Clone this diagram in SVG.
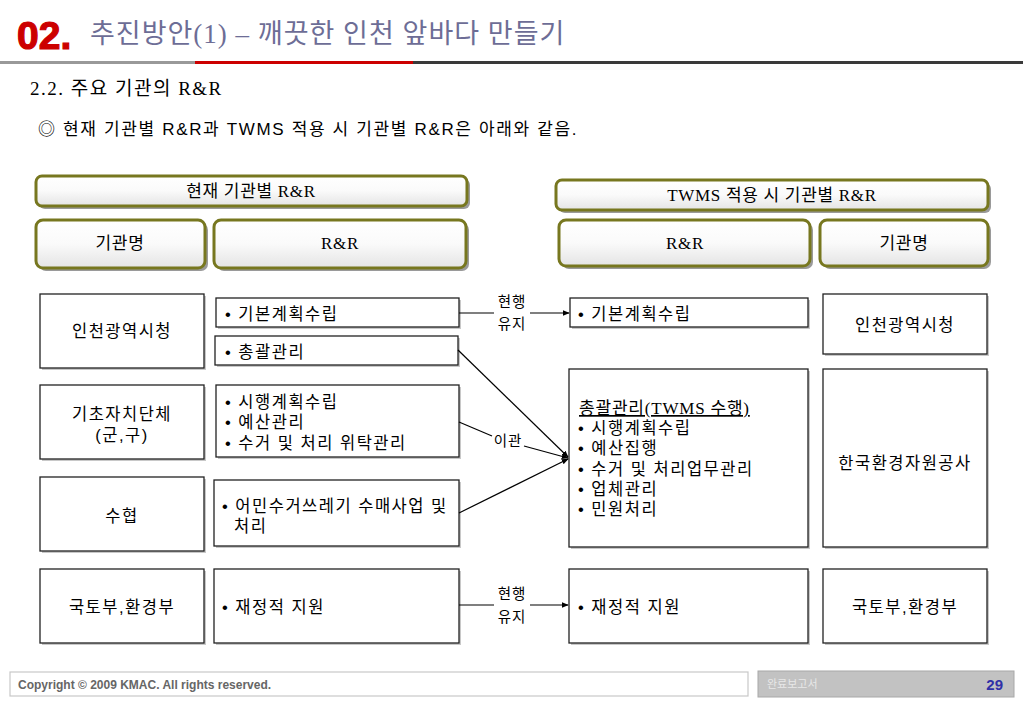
<svg xmlns="http://www.w3.org/2000/svg" width="1023" height="708" viewBox="0 0 1023 708">
<defs>
<linearGradient id="hg" x1="0" y1="0" x2="0" y2="1">
<stop offset="0" stop-color="#ffffff"/>
<stop offset="0.5" stop-color="#fafafa"/>
<stop offset="1" stop-color="#e4e4e4"/>
</linearGradient>
<marker id="ar" viewBox="0 0 10 10" refX="9" refY="5" markerWidth="7" markerHeight="7" markerUnits="userSpaceOnUse" orient="auto">
<path d="M0,1 L10,5 L0,9 z" fill="#000"/>
</marker>
<style>
.hdr{fill:url(#hg);stroke:#77771f;stroke-width:3}
.shd{fill:#9a9a9a}
.bx{fill:#fff;stroke:#222;stroke-width:1.3}
.bs{fill:#c8c8c8}
.ht{font-family:"Liberation Serif","Noto Sans CJK KR",serif;font-size:17px;letter-spacing:0.7px;fill:#000;text-anchor:middle}
.t{font-family:"Liberation Sans","Noto Sans CJK KR",sans-serif;font-size:16.5px;letter-spacing:1.5px;fill:#000}
.tc{font-family:"Liberation Sans","Noto Sans CJK KR",sans-serif;font-size:16.5px;letter-spacing:1.5px;fill:#000;text-anchor:middle}
.lb{font-family:"Liberation Sans","Noto Sans CJK KR",sans-serif;font-size:14.5px;letter-spacing:1px;fill:#000;text-anchor:middle}
.cn{fill:none;stroke:#000;stroke-width:1.2}
</style>
</defs>
<rect width="1023" height="708" fill="#fff"/>

<g id="title">
<text x="17" y="49" font-family="Liberation Sans, sans-serif" font-weight="bold" font-size="39" fill="#cc0000" stroke="#cc0000" stroke-width="1.2">02.</text>
<text x="90" y="43" font-family="Liberation Serif, Noto Sans CJK KR, serif" font-size="27" letter-spacing="1" fill="#6d6d96">추진방안(1) – 깨끗한 인천 앞바다 만들기</text>
<rect x="0" y="61" width="195" height="3" fill="#999"/>
<rect x="195" y="61" width="218" height="3" fill="#cc0000"/>
<rect x="413" y="61" width="610" height="3" fill="#3a3a3a"/>
<text x="30" y="95" font-family="Liberation Serif, Noto Sans CJK KR, serif" font-size="19" letter-spacing="1.5" fill="#000">2.2. 주요 기관의 R&amp;R</text>
<text x="38" y="135" font-family="Liberation Sans, Noto Sans CJK KR, sans-serif" font-size="17" letter-spacing="1.65" fill="#000">◎ 현재 기관별 R&amp;R과 TWMS 적용 시 기관별 R&amp;R은 아래와 같음.</text>
</g>

<g id="hdr-left-top">
<rect class="shd" x="39" y="179" width="431" height="30" rx="6"/>
<rect class="hdr" x="36" y="176" width="431" height="30" rx="6"/>
<text class="ht" x="251" y="197">현재 기관별 R&amp;R</text>
</g>
<g id="hdr-left-org">
<rect class="shd" x="39" y="223" width="169" height="48" rx="7"/>
<rect class="hdr" x="36" y="220" width="169" height="48" rx="7"/>
<text class="ht" x="120" y="249">기관명</text>
</g>
<g id="hdr-left-rr">
<rect class="shd" x="217" y="223" width="252" height="48" rx="7"/>
<rect class="hdr" x="214" y="220" width="252" height="48" rx="7"/>
<text class="ht" x="340" y="249">R&amp;R</text>
</g>
<g id="hdr-right-top">
<rect class="shd" x="559" y="183" width="432" height="30" rx="6"/>
<rect class="hdr" x="556" y="180" width="432" height="30" rx="6"/>
<text class="ht" x="772" y="201">TWMS 적용 시 기관별 R&amp;R</text>
</g>
<g id="hdr-right-rr">
<rect class="shd" x="562" y="223" width="251" height="46" rx="7"/>
<rect class="hdr" x="559" y="220" width="251" height="46" rx="7"/>
<text class="ht" x="685" y="249">R&amp;R</text>
</g>
<g id="hdr-right-org">
<rect class="shd" x="823" y="223" width="168" height="46" rx="7"/>
<rect class="hdr" x="820" y="220" width="168" height="46" rx="7"/>
<text class="ht" x="904" y="249">기관명</text>
</g>

<g id="org-incheon">
<rect class="bs" x="42" y="296" width="164" height="74"/>
<rect class="bx" x="40" y="294" width="164" height="74"/>
<text class="tc" x="122" y="337">인천광역시청</text>
</g>
<g id="org-gicho">
<rect class="bs" x="42" y="387" width="164" height="74"/>
<rect class="bx" x="40" y="385" width="164" height="74"/>
<text class="tc" x="122" y="420">기초자치단체</text>
<text class="tc" x="122" y="441">(군,구)</text>
</g>
<g id="org-suhyup">
<rect class="bs" x="42" y="479" width="164" height="74"/>
<rect class="bx" x="40" y="477" width="164" height="74"/>
<text class="tc" x="122" y="522">수협</text>
</g>
<g id="org-ministry">
<rect class="bs" x="42" y="571" width="164" height="74"/>
<rect class="bx" x="40" y="569" width="164" height="74"/>
<text class="tc" x="122" y="613">국토부,환경부</text>
</g>

<g id="rr-basic">
<rect class="bs" x="218" y="300" width="243" height="29"/>
<rect class="bx" x="216" y="298" width="243" height="29"/>
<text class="t" x="225" y="320">• 기본계획수립</text>
</g>
<g id="rr-general">
<rect class="bs" x="217" y="338" width="243" height="29"/>
<rect class="bx" x="215" y="336" width="243" height="29"/>
<text class="t" x="225" y="358">• 총괄관리</text>
</g>
<g id="rr-exec">
<rect class="bs" x="218" y="387" width="243" height="72"/>
<rect class="bx" x="216" y="385" width="243" height="72"/>
<text class="t" x="225" y="408">• 시행계획수립</text>
<text class="t" x="225" y="428">• 예산관리</text>
<text class="t" x="225" y="449">• 수거 및 처리 위탁관리</text>
</g>
<g id="rr-fisher">
<rect class="bs" x="216" y="482" width="245" height="66"/>
<rect class="bx" x="214" y="480" width="245" height="66"/>
<text class="t" x="222" y="512">• 어민수거쓰레기 수매사업 및</text>
<text class="t" x="234" y="532">처리</text>
</g>
<g id="rr-finance">
<rect class="bs" x="216" y="571" width="245" height="74"/>
<rect class="bx" x="214" y="569" width="245" height="74"/>
<text class="t" x="222" y="613">• 재정적 지원</text>
</g>

<g id="new-basic">
<rect class="bs" x="572" y="300" width="238" height="29"/>
<rect class="bx" x="570" y="298" width="238" height="29"/>
<text class="t" x="578" y="320">• 기본계획수립</text>
</g>
<g id="new-general">
<rect class="bs" x="571" y="371" width="239" height="178"/>
<rect class="bx" x="569" y="369" width="239" height="178"/>
<text x="579" y="414" font-family="Liberation Serif, Noto Sans CJK KR, serif" font-size="17" letter-spacing="0.8" text-decoration="underline" fill="#000">총괄관리(TWMS 수행)</text>
<text class="t" x="578" y="434">• 시행계획수립</text>
<text class="t" x="578" y="454">• 예산집행</text>
<text class="t" x="578" y="475">• 수거 및 처리업무관리</text>
<text class="t" x="578" y="495">• 업체관리</text>
<text class="t" x="578" y="515">• 민원처리</text>
</g>
<g id="new-finance">
<rect class="bs" x="571" y="571" width="239" height="74"/>
<rect class="bx" x="569" y="569" width="239" height="74"/>
<text class="t" x="578" y="613">• 재정적 지원</text>
</g>

<g id="new-org-incheon">
<rect class="bs" x="825" y="296" width="164" height="60"/>
<rect class="bx" x="823" y="294" width="164" height="60"/>
<text class="tc" x="905" y="331">인천광역시청</text>
</g>
<g id="new-org-korea">
<rect class="bs" x="825" y="371" width="164" height="178"/>
<rect class="bx" x="823" y="369" width="164" height="178"/>
<text class="tc" x="905" y="469">한국환경자원공사</text>
</g>
<g id="new-org-ministry">
<rect class="bs" x="825" y="571" width="164" height="74"/>
<rect class="bx" x="823" y="569" width="164" height="74"/>
<text class="tc" x="905" y="613">국토부,환경부</text>
</g>

<g id="connectors">
<line class="cn" x1="459" y1="313" x2="494" y2="313"/>
<line class="cn" x1="530" y1="313" x2="569" y2="313" marker-end="url(#ar)"/>
<text class="lb" x="512" y="307">현행</text>
<text class="lb" x="512" y="329">유지</text>
<line class="cn" x1="458" y1="350" x2="568" y2="457" marker-end="url(#ar)"/>
<line class="cn" x1="459" y1="422" x2="492" y2="436"/>
<line class="cn" x1="524" y1="446" x2="568" y2="458" marker-end="url(#ar)"/>
<text class="lb" x="508" y="446">이관</text>
<line class="cn" x1="459" y1="513" x2="568" y2="459" marker-end="url(#ar)"/>
<line class="cn" x1="459" y1="605" x2="494" y2="605"/>
<line class="cn" x1="530" y1="605" x2="568" y2="605" marker-end="url(#ar)"/>
<text class="lb" x="512" y="599">현행</text>
<text class="lb" x="512" y="622">유지</text>
</g>

<g id="footer">
<rect x="10" y="672" width="738" height="24" fill="#fff" stroke="#c8c8c8" stroke-width="1.2"/>
<text x="18" y="689" font-family="Liberation Sans, sans-serif" font-weight="bold" font-size="12" fill="#666">Copyright © 2009 KMAC. All rights reserved.</text>
<rect x="758" y="671" width="256" height="26" fill="#c2c2c2" stroke="#a8a8a8" stroke-width="1"/>
<text x="767" y="688" font-family="Noto Sans CJK KR, sans-serif" font-size="11" fill="#e8e8e8">완료보고서</text>
<text x="1003" y="690" font-family="Liberation Sans, sans-serif" font-weight="bold" font-size="15" fill="#3030a8" text-anchor="end">29</text>
</g>
</svg>
